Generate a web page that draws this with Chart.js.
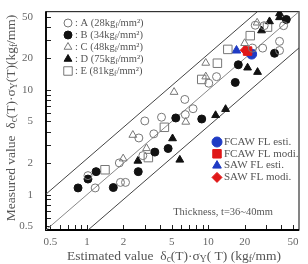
<!DOCTYPE html>
<html>
<head>
<meta charset="utf-8">
<script src="https://cdn.jsdelivr.net/npm/chart.js@4.4.1/dist/chart.umd.min.js"></script>
<style>
  html, body { margin: 0; padding: 0; background: #fff; }
</style>
</head>
<body>
<canvas id="grafico" width="308" height="264"></canvas>
<script>
// Valores estimados (x) y medidos (y), por acero
const aEst = [1.02, 1.17, 1.89, 2.08, 1.85, 2.68, 2.89, 3.56, 3.0, 4.12, 6.41, 6.47, 7.5, 10.1, 11.7, 23.2, 28.1, 38.7, 38.7, 41.8, 28.9, 24.4];
const aMed = [1.52, 1.16, 1.31, 1.31, 2.01, 3.48, 2.36, 3.81, 5.06, 5.49, 8.12, 5.82, 6.62, 11.6, 13.4, 25.1, 25.1, 23.8, 29.1, 41.1, 41.1, 41.5];
const bEst = [0.845, 1.02, 1.19, 1.65, 2.65, 3.63, 4.67, 5.4, 8.84, 16.7, 17.7, 35.2, 44.0];
const bMed = [1.16, 1.41, 1.66, 1.17, 1.66, 2.55, 2.76, 5.4, 5.28, 11.8, 17.4, 22.4, 47.1];
const cEst = [1.99, 2.39, 3.1, 5.23, 6.53, 9.54, 9.54, 19.95, 25.3];
const cMed = [2.21, 3.71, 2.77, 9.54, 4.95, 18.1, 13.4, 27.9, 43.8];
const dEst = [2.63, 5.08, 5.83, 11.5, 13.9, 21.1, 25.5, 27.5, 32.0, 38.7, 38.7];
const dMed = [2.1, 3.44, 2.15, 5.73, 6.55, 16.3, 14.8, 36.9, 45.1, 53.7, 49.3];
const eEst = [1.41, 3.21, 4.35, 8.84, 11.9, 14.5, 22.2, 30.8];
const eMed = [1.73, 2.26, 4.4, 12.6, 18.0, 24.4, 33.0, 39.8];
// Soldaduras FL
const fcawEstX = [22.8], fcawEstY = [22.0];
const fcawModX = [21.1], fcawModY = [23.5];
const sawEstX = [17.1], sawEstY = [23.8];
const sawModX = [20.2], sawModY = [24.0];

const ticksMayores = [0.5, 1, 2, 5, 10, 20, 50];
const ticksMenores = [0.6, 0.7, 0.8, 0.9, 3, 4, 6, 7, 8, 9, 30, 40];
const factoresRef = [2.2, 1, 0.45];
const ejeMin = 0.46, ejeMax = 56;

const serif = "'Liberation Serif', 'DejaVu Serif', serif";
const gris = '#777';
const texto = '#555';

const juntar = (xs, ys) => xs.map((x, i) => ({ x: x, y: ys[i] }));

const series = [
  { label: 'A', data: juntar(aEst, aMed), pointStyle: 'circle', pointRadius: 4, backgroundColor: 'rgba(0,0,0,0)', borderColor: gris },
  { label: 'B', data: juntar(bEst, bMed), pointStyle: 'circle', pointRadius: 4, backgroundColor: '#111', borderColor: '#111' },
  { label: 'C', data: juntar(cEst, cMed), pointStyle: 'triangle', pointRadius: 4.5, backgroundColor: 'rgba(0,0,0,0)', borderColor: gris },
  { label: 'D', data: juntar(dEst, dMed), pointStyle: 'triangle', pointRadius: 4.5, backgroundColor: '#111', borderColor: '#111' },
  { label: 'E', data: juntar(eEst, eMed), pointStyle: 'rect', pointRadius: 6, backgroundColor: 'rgba(0,0,0,0)', borderColor: gris },
  { label: 'FCAW FL modi.', data: juntar(fcawModX, fcawModY), pointStyle: 'rect', pointRadius: 6, backgroundColor: '#e01818', borderColor: '#e01818' },
  { label: 'SAW FL modi.', data: juntar(sawModX, sawModY), pointStyle: 'rectRot', pointRadius: 5, backgroundColor: '#e01818', borderColor: '#e01818' },
  { label: 'FCAW FL esti.', data: juntar(fcawEstX, fcawEstY), pointStyle: 'circle', pointRadius: 5, backgroundColor: '#1f3bc4', borderColor: '#1f3bc4' },
  { label: 'SAW FL esti.', data: juntar(sawEstX, sawEstY), pointStyle: 'triangle', pointRadius: 5, backgroundColor: '#1f3bc4', borderColor: '#1f3bc4' }
];
series.forEach(s => { s.borderWidth = 1; s.showLine = false; });

// lineas de referencia y = k x
const lineas = factoresRef.map(k => ({
  label: 'ref' + k,
  data: [{ x: ejeMin, y: ejeMin * k }, { x: ejeMax, y: ejeMax * k }],
  showLine: true,
  pointRadius: 0,
  borderWidth: 1,
  borderColor: k === 1 ? '#888' : '#444',
  order: 10
}));

function fuente(size) { return size + 'px ' + serif; }

// texto con subindices
function textoRico(ctx, partes, x, y, size, align) {
  let total = 0;
  partes.forEach(p => { ctx.font = fuente(p.sub ? size * 0.7 : size); total += ctx.measureText(p.t).width; });
  let cx = align === 'center' ? x - total / 2 : x;
  ctx.textAlign = 'left';
  ctx.textBaseline = 'middle';
  partes.forEach(p => {
    ctx.font = fuente(p.sub ? size * 0.7 : size);
    ctx.fillText(p.t, cx, p.sub ? y + size * 0.28 : y);
    cx += ctx.measureText(p.t).width;
  });
}

const tituloY = [{ t: 'Measured value  δ' }, { t: 'c', sub: true }, { t: '(T)·σ' }, { t: 'Y', sub: true }, { t: '(T)(kg' }, { t: 'f', sub: true }, { t: '/mm)' }];
const tituloX = [{ t: 'Estimated value  δ' }, { t: 'c', sub: true }, { t: '(T)·σ' }, { t: 'Y', sub: true }, { t: '( T) (kg' }, { t: 'f', sub: true }, { t: '/mm)' }];
const leyendaAceros = [
  { s: 0, partes: [{ t: ': A (28kg' }, { t: 'f', sub: true }, { t: '/mm²)' }] },
  { s: 1, partes: [{ t: ': B (34kg' }, { t: 'f', sub: true }, { t: '/mm²)' }] },
  { s: 2, partes: [{ t: ': C (48kg' }, { t: 'f', sub: true }, { t: '/mm²)' }] },
  { s: 3, partes: [{ t: ': D (75kg' }, { t: 'f', sub: true }, { t: '/mm²)' }] },
  { s: 4, partes: [{ t: ': E (81kg' }, { t: 'f', sub: true }, { t: '/mm²)' }] }
];
const leyendaFL = [7, 5, 8, 6];

function marcador(ctx, ds, x, y) {
  ctx.save();
  ctx.fillStyle = ds.backgroundColor;
  ctx.strokeStyle = ds.borderColor;
  ctx.lineWidth = 1;
  Chart.helpers.drawPoint(ctx, { pointStyle: ds.pointStyle, radius: ds.pointRadius, rotation: 0, borderWidth: 1 }, x, y);
  ctx.restore();
}

const marco = {
  id: 'marco',
  beforeDatasetsDraw(chart) {
    const ctx = chart.ctx, a = chart.chartArea;
    const sx = chart.scales.x, sy = chart.scales.y;
    ctx.save();
    ctx.strokeStyle = '#222';
    ctx.lineWidth = 1;
    const marcas = ticksMayores.concat(ticksMenores);
    marcas.forEach(v => {
      const px = Math.round(sx.getPixelForValue(v)) + 0.5;
      const py = Math.round(sy.getPixelForValue(v)) + 0.5;
      ctx.beginPath();
      ctx.moveTo(px, a.bottom); ctx.lineTo(px, a.bottom - 5);
      ctx.moveTo(a.left, py); ctx.lineTo(a.left + 5, py);
      ctx.stroke();
    });
    ctx.strokeStyle = '#333';
    ctx.lineWidth = 1.2;
    ctx.strokeRect(a.left, a.top, a.right - a.left, a.bottom - a.top);
    ctx.strokeStyle = '#000';
    ctx.lineWidth = 1.8;
    ctx.beginPath();
    ctx.moveTo(a.left, a.top); ctx.lineTo(a.left, a.bottom); ctx.lineTo(a.right, a.bottom);
    ctx.stroke();
    ctx.restore();
  },
  afterDraw(chart) {
    const ctx = chart.ctx;
    ctx.save();
    ctx.fillStyle = texto;
    ctx.save();
    ctx.translate(11, 118);
    ctx.rotate(-Math.PI / 2);
    textoRico(ctx, tituloY, 0, 0, 13.5, 'center');
    ctx.restore();
    textoRico(ctx, tituloX, 174, 256, 13.5, 'center');

    leyendaAceros.forEach((e, i) => {
      const y = 23 + i * 12;
      marcador(ctx, series[e.s], 68, y);
      ctx.fillStyle = texto;
      textoRico(ctx, e.partes, 75, y, 10.5, 'left');
    });
    leyendaFL.forEach((idx, i) => {
      const y = 142 + i * 11.8;
      marcador(ctx, series[idx], 217, y);
      ctx.fillStyle = texto;
      textoRico(ctx, [{ t: series[idx].label }], 224, y, 11, 'left');
    });
    textoRico(ctx, [{ t: 'Thickness, t=36~40mm' }], 223, 212, 10.5, 'center');
    ctx.restore();
  }
};

const ejeLog = (pad) => ({
  type: 'logarithmic',
  min: ejeMin,
  max: ejeMax,
  afterBuildTicks: s => { s.ticks = ticksMayores.map(v => ({ value: v })); },
  ticks: {
    color: '#666',
    font: { family: serif, size: 11 },
    padding: pad,
    autoSkip: false,
    maxRotation: 0,
    callback: v => String(v)
  },
  grid: { display: false },
  border: { display: false }
});

const ejeX = ejeLog(-2);
ejeX.afterFit = s => { s.height = 34; };
const ejeY = ejeLog(5);
ejeY.afterFit = s => { s.width = 46; };

new Chart(document.getElementById('grafico'), {
  type: 'scatter',
  data: { datasets: series.concat(lineas) },
  options: {
    responsive: false,
    animation: false,
    layout: { padding: { top: 6, right: 9, left: 0, bottom: 0 } },
    plugins: { legend: { display: false }, tooltip: { enabled: false } },
    scales: { x: ejeX, y: ejeY }
  },
  plugins: [marco]
});
</script>
</body>
</html>
